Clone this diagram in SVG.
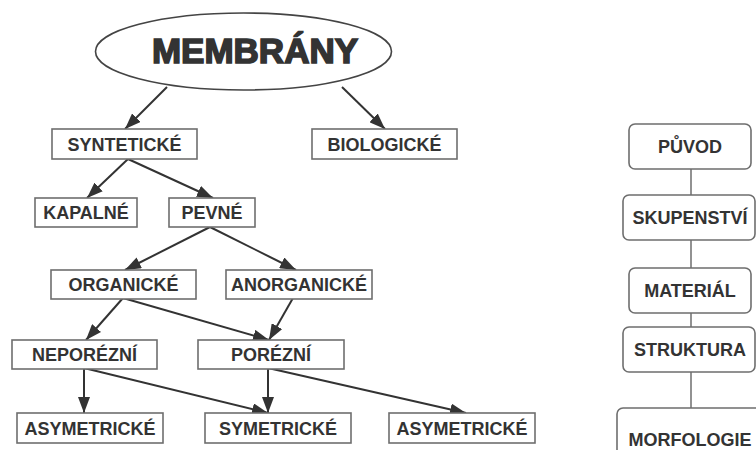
<svg xmlns="http://www.w3.org/2000/svg" width="756" height="450" viewBox="0 0 756 450">
<style>
.box{fill:#fff;stroke:#6e6e6e;stroke-width:1.6}
.rbox{fill:#fff;stroke:#6e6e6e;stroke-width:1.6}
.t{font-family:"Liberation Sans",Arial,sans-serif;font-weight:bold;font-size:18px;fill:#333;text-anchor:middle}
.title{font-family:"Liberation Sans",Arial,sans-serif;font-weight:bold;font-size:35px;fill:#333;stroke:#333;stroke-width:1.6;text-anchor:middle}
.c{stroke:#333;stroke-width:2;fill:none;marker-end:url(#ah)}
.v{stroke:#6e6e6e;stroke-width:1.5;fill:none}
</style>
<defs>
<marker id="ah" viewBox="0 0 16 12" refX="16" refY="6" markerWidth="16" markerHeight="12" markerUnits="userSpaceOnUse" orient="auto">
<path d="M0,0 L16,6 L0,12 z" fill="#333"/>
</marker>
</defs>
<rect width="756" height="450" fill="#fff"/>
<g id="connectors">
<line class="c" x1="167" y1="87" x2="125" y2="129"/>
<line class="c" x1="342" y1="87" x2="385" y2="129"/>
<line class="c" x1="128" y1="159" x2="87" y2="198"/>
<line class="c" x1="128" y1="159" x2="213" y2="198"/>
<line class="c" x1="210" y1="227" x2="125" y2="270"/>
<line class="c" x1="210" y1="227" x2="296" y2="270"/>
<line class="c" x1="123" y1="298" x2="86" y2="340"/>
<line class="c" x1="123" y1="298" x2="269" y2="340"/>
<line class="c" x1="293" y1="298" x2="269" y2="340"/>
<line class="c" x1="84" y1="368" x2="84" y2="413"/>
<line class="c" x1="84" y1="368" x2="268" y2="413"/>
<line class="c" x1="268" y1="368" x2="268" y2="413"/>
<line class="c" x1="268" y1="368" x2="466" y2="413"/>
<line class="v" x1="691" y1="169" x2="691" y2="195"/>
<line class="v" x1="691" y1="240" x2="691" y2="268"/>
<line class="v" x1="691" y1="313" x2="691" y2="327"/>
<line class="v" x1="691" y1="372" x2="691" y2="408"/>
</g>
<g id="membrany">
<ellipse cx="243.5" cy="51.5" rx="148" ry="38.5" fill="#fff" stroke="#444" stroke-width="1.6"/>
<text class="title" x="255" y="63">MEMBRÁNY</text>
</g>
<g id="synteticke"><rect class="box" x="52" y="129" width="145" height="30"/><text class="t" x="124.5" y="150.5">SYNTETICKÉ</text></g>
<g id="biologicke"><rect class="box" x="312" y="129" width="145" height="30"/><text class="t" x="384.5" y="150.5">BIOLOGICKÉ</text></g>
<g id="kapalne"><rect class="box" x="35" y="198" width="102" height="29"/><text class="t" x="86" y="219">KAPALNÉ</text></g>
<g id="pevne"><rect class="box" x="169" y="198" width="86" height="29"/><text class="t" x="212" y="219">PEVNÉ</text></g>
<g id="organicke"><rect class="box" x="51" y="270" width="145" height="29"/><text class="t" x="123.5" y="291">ORGANICKÉ</text></g>
<g id="anorganicke"><rect class="box" x="226" y="270" width="146" height="29"/><text class="t" x="299" y="291">ANORGANICKÉ</text></g>
<g id="neporezni"><rect class="box" x="12" y="340" width="145" height="29"/><text class="t" x="84.5" y="361">NEPORÉZNÍ</text></g>
<g id="porezni"><rect class="box" x="198" y="340" width="146" height="29"/><text class="t" x="271" y="361">PORÉZNÍ</text></g>
<g id="asymetricke1"><rect class="box" x="17" y="413" width="146" height="30"/><text class="t" x="90" y="434.5">ASYMETRICKÉ</text></g>
<g id="symetricke"><rect class="box" x="205" y="413" width="146" height="30"/><text class="t" x="278" y="434.5">SYMETRICKÉ</text></g>
<g id="asymetricke2"><rect class="box" x="389" y="413" width="146" height="30"/><text class="t" x="462" y="434.5">ASYMETRICKÉ</text></g>
<g id="puvod"><rect class="rbox" x="629" y="124" width="122" height="45" rx="6"/><text class="t" x="690" y="153">PŮVOD</text></g>
<g id="skupenstvi"><rect class="rbox" x="623" y="195" width="132" height="45" rx="6"/><text class="t" x="690" y="224">SKUPENSTVÍ</text></g>
<g id="material"><rect class="rbox" x="629" y="268" width="122" height="45" rx="6"/><text class="t" x="690" y="297">MATERIÁL</text></g>
<g id="struktura"><rect class="rbox" x="623" y="327" width="132" height="45" rx="6"/><text class="t" x="690" y="356">STRUKTURA</text></g>
<g id="morfologie"><rect class="rbox" x="617" y="408" width="145" height="50" rx="6"/><text class="t" x="690" y="446">MORFOLOGIE</text></g>
</svg>
